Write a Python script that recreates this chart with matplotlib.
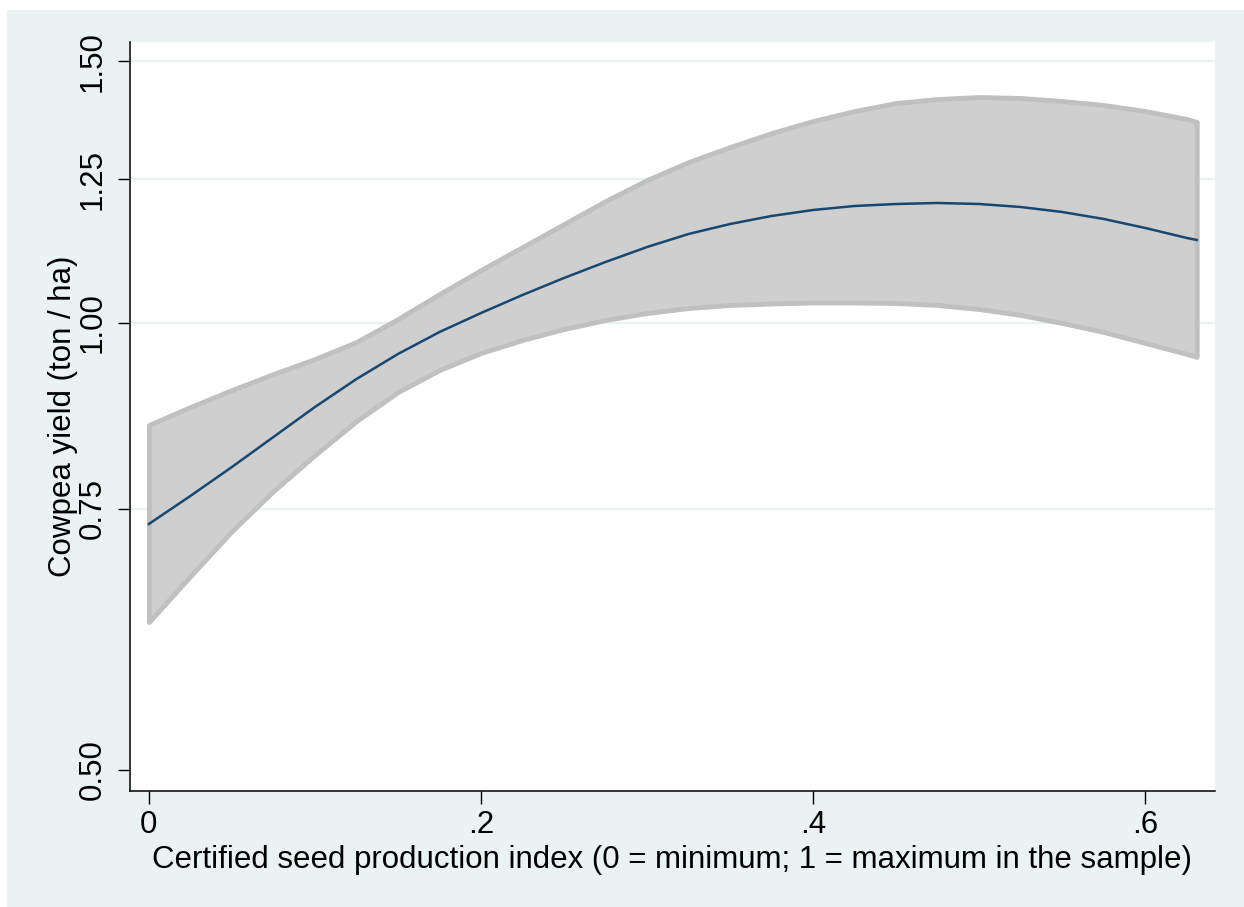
import numpy as np
import matplotlib
matplotlib.use("Agg")
import matplotlib.pyplot as plt
from matplotlib.patches import Rectangle
from matplotlib.ticker import FixedLocator, NullLocator

# Data
x_index = [0.000, 0.025, 0.050, 0.075, 0.100, 0.125, 0.150, 0.175, 0.200,
           0.225, 0.250, 0.275, 0.300, 0.325, 0.350, 0.375, 0.400, 0.425,
           0.450, 0.475, 0.500, 0.525, 0.550, 0.575, 0.600, 0.625, 0.631]
yield_fit = [0.7323, 0.7648, 0.7999, 0.8380, 0.8779, 0.9168, 0.9531, 0.9861, 1.0156,
             1.0444, 1.0723, 1.0992, 1.1250, 1.1480, 1.1659, 1.1805, 1.1915, 1.1989,
             1.2026, 1.2045, 1.2026, 1.1970, 1.1878, 1.1750, 1.1587, 1.1409, 1.1374]
ci_upper = [0.8537, 0.8779, 0.9013, 0.9240, 0.9457, 0.9710, 1.0062, 1.0460, 1.0856,
            1.1250, 1.1659, 1.2082, 1.2482, 1.2835, 1.3137, 1.3425, 1.3678, 1.3891,
            1.4065, 1.4152, 1.4196, 1.4174, 1.4108, 1.4021, 1.3891, 1.3720, 1.3656]
ci_lower = [0.6290, 0.6755, 0.7243, 0.7707, 0.8149, 0.8590, 0.8985, 0.9297, 0.9546,
            0.9740, 0.9907, 1.0047, 1.0156, 1.0235, 1.0283, 1.0307, 1.0323, 1.0323,
            1.0315, 1.0283, 1.0219, 1.0125, 1.0000, 0.9861, 0.9695, 0.9531, 0.9487]

y_ticks = [0.50, 0.75, 1.00, 1.25, 1.50]
y_ticklabels = ["0.50", "0.75", "1.00", "1.25", "1.50"]
x_ticks = [0, 0.2, 0.4, 0.6]
x_ticklabels = ["0", ".2", ".4", ".6"]

plt.rcParams['font.family'] = ['Liberation Sans', 'DejaVu Sans']

W, H = 1244, 907
fig = plt.figure(figsize=(W / 100, H / 100), dpi=100)
fig.patch.set_facecolor("white")
bg = "#EAF2F3"
fig.patches.append(Rectangle((7 / W, 0), 1 - 7 / W, 1 - 10 / H, transform=fig.transFigure,
                             facecolor=bg, edgecolor="none", zorder=-10))

ax = fig.add_axes([130 / W, 1 - 791 / H, (1215 - 130) / W, (791 - 42) / H])
ax.set_facecolor("white")
ax.set_yscale("log")
ax.set_ylim(0.484, 1.546)
ax.set_xlim(-0.0114, 0.642)

# Gridlines (Stata style, excluding the lowest tick)
for t in y_ticks[1:]:
    ax.axhline(t, color=bg, lw=1.6, zorder=0)

xs = np.array(x_index)
ax.fill_between(xs, ci_lower, ci_upper, facecolor="#CFCFCF", edgecolor="#C0C0C0",
                linewidth=3.5, zorder=2, joinstyle="round")
ax.plot(xs, yield_fit, color="#1A476F", lw=1.8, zorder=3)

ax.yaxis.set_major_locator(FixedLocator(y_ticks))
ax.yaxis.set_minor_locator(NullLocator())
ax.set_yticklabels(y_ticklabels, rotation=90, va="center")
ax.set_xticks(x_ticks)
ax.set_xticklabels(x_ticklabels)

ax.tick_params(axis="both", length=9, width=1.0, color="black", labelsize=22.5, pad=5)
ax.tick_params(axis="y", pad=7)

for s in ["top", "right"]:
    ax.spines[s].set_visible(False)
for s in ["left", "bottom"]:
    ax.spines[s].set_linewidth(1.1)
    ax.spines[s].set_color("black")

ax.set_ylabel("Cowpea yield (ton / ha)", fontsize=22.5, labelpad=0)
ax.set_xlabel("Certified seed production index (0 = minimum; 1 = maximum in the sample)",
              fontsize=22.5, labelpad=3)

fig.savefig("out.png", dpi=100, facecolor=fig.get_facecolor())
